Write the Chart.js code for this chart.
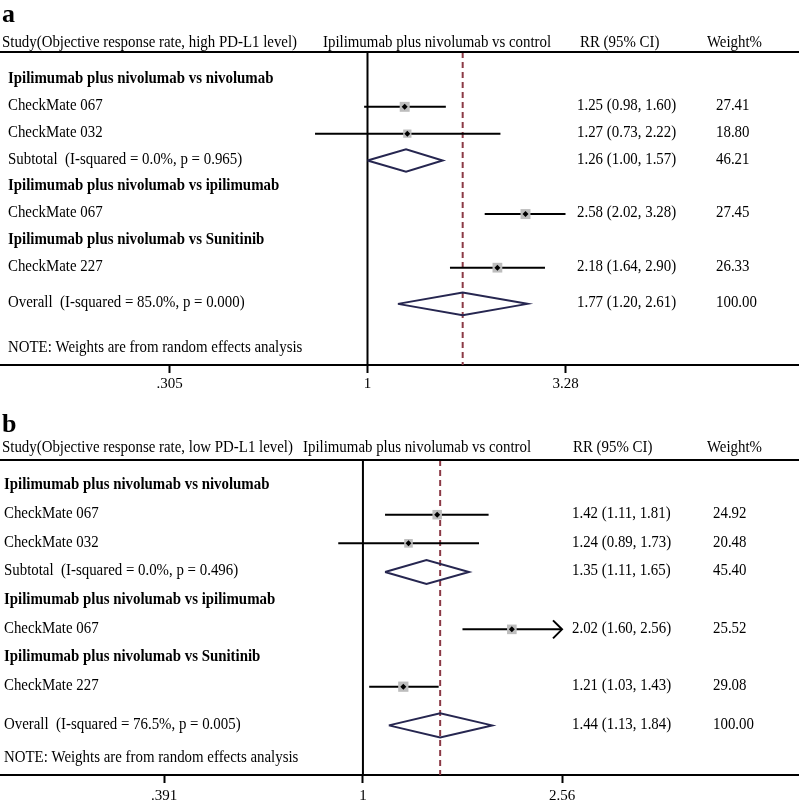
<!DOCTYPE html>
<html>
<head>
<meta charset="utf-8">
<script src="https://cdn.jsdelivr.net/npm/chart.js@4.4.1/dist/chart.umd.min.js"></script>
<style>
  html, body { margin: 0; padding: 0; background: #fff; overflow: hidden; }
  #wrap { position: relative; width: 799px; height: 806px; overflow: hidden; }
  .panel { position: absolute; left: 0; }
</style>
</head>
<body>
<div id="wrap">
  <canvas id="chartA" class="panel" style="top:0" width="799" height="400"></canvas>
  <canvas id="chartB" class="panel" style="top:400px" width="799" height="412"></canvas>
</div>
<script>
// Panel a: objective response rate, high PD-L1 level
const rowLabelsA = [
  'Ipilimumab plus nivolumab vs nivolumab',
  'CheckMate 067',
  'CheckMate 032',
  'Subtotal  (I-squared = 0.0%, p = 0.965)',
  'Ipilimumab plus nivolumab vs ipilimumab',
  'CheckMate 067',
  'Ipilimumab plus nivolumab vs Sunitinib',
  'CheckMate 227',
  'Overall  (I-squared = 85.0%, p = 0.000)',
]
const rowKindsA = ['group', 'study', 'study', 'pooled', 'group', 'study', 'group', 'study', 'overall']
const rrA = [null, 1.25, 1.27, 1.26, null, 2.58, null, 2.18, 1.77]
const lowerA = [null, 0.98, 0.73, 1.00, null, 2.02, null, 1.64, 1.20]
const upperA = [null, 1.60, 2.22, 1.57, null, 3.28, null, 2.90, 2.61]
const weightA = [null, 27.41, 18.80, 46.21, null, 27.45, null, 26.33, 100.00]
const arrowRowsA = []
const tickValuesA = [0.305, 1, 3.28]
const tickLabelsA = ['.305', '1', '3.28']

// Panel b: objective response rate, low PD-L1 level
const rowLabelsB = [
  'Ipilimumab plus nivolumab vs nivolumab',
  'CheckMate 067',
  'CheckMate 032',
  'Subtotal  (I-squared = 0.0%, p = 0.496)',
  'Ipilimumab plus nivolumab vs ipilimumab',
  'CheckMate 067',
  'Ipilimumab plus nivolumab vs Sunitinib',
  'CheckMate 227',
  'Overall  (I-squared = 76.5%, p = 0.005)',
]
const rowKindsB = ['group', 'study', 'study', 'pooled', 'group', 'study', 'group', 'study', 'overall']
const rrB = [null, 1.42, 1.24, 1.35, null, 2.02, null, 1.21, 1.44]
const lowerB = [null, 1.11, 0.89, 1.11, null, 1.60, null, 1.03, 1.13]
const upperB = [null, 1.81, 1.73, 1.65, null, 2.56, null, 1.43, 1.84]
const weightB = [null, 24.92, 20.48, 45.40, null, 25.52, null, 29.08, 100.00]
const arrowRowsB = [5]
const tickValuesB = [0.391, 1, 2.56]
const tickLabelsB = ['.391', '1', '2.56']

const NOTE_TEXT = 'NOTE: Weights are from random effects analysis'

// styling
const FAMILY = '"Liberation Serif", "Times New Roman", serif'
const SQUEEZE = 0.93
const OVERALL_GAP = 0.35
const DIAMOND_HALF = 0.42
const SQUARE_K = 1.9
const NAVY = '#262650'
const DASH_RED = '#8c3a46'

const rowPositions = (kinds) => kinds.map((k, i) => (k === 'overall' ? i + OVERALL_GAP : i))

const drawSqueezed = (ctx, str, x, y, font) => {
  ctx.save()
  ctx.font = font
  ctx.translate(x, y)
  ctx.scale(SQUEEZE, 1)
  ctx.fillText(str, 0, 0)
  ctx.restore()
}

const buildDatasets = (p) => {
  const rows = rowPositions(p.kinds)
  const studies = p.kinds.map((k, i) => (k === 'study' ? i : -1)).filter((i) => i >= 0)
  const overallIdx = p.kinds.indexOf('overall')
  const sets = []

  const estPoints = studies.map((i) => ({ x: p.rr[i], y: rows[i] }))

  // point estimate
  sets.push({
    data: estPoints,
    pointStyle: 'rectRot',
    pointRadius: 3,
    backgroundColor: '#000',
    borderWidth: 0,
  })

  // weight boxes, area ~ weight
  sets.push({
    data: estPoints,
    pointStyle: 'rect',
    pointRadius: studies.map((i) => (SQUARE_K * Math.sqrt(p.weight[i])) / Math.SQRT2),
    backgroundColor: '#bdbdbd',
    borderWidth: 0,
  })

  studies.forEach((i) => {
    sets.push({
      data: [{ x: p.lower[i], y: rows[i] }, { x: p.upper[i], y: rows[i] }],
      showLine: true,
      borderColor: '#000',
      borderWidth: 2,
      pointRadius: 0,
    })
  })

  p.kinds.forEach((k, i) => {
    if (k !== 'pooled' && k !== 'overall') return
    const r = rows[i]
    sets.push({
      data: [
        { x: p.lower[i], y: r },
        { x: p.rr[i], y: r - DIAMOND_HALF },
        { x: p.upper[i], y: r },
        { x: p.rr[i], y: r + DIAMOND_HALF },
        { x: p.lower[i], y: r },
      ],
      showLine: true,
      borderColor: NAVY,
      borderWidth: 2,
      borderJoinStyle: 'miter',
      pointRadius: 0,
    })
  })

  sets.push({
    data: [{ x: p.rr[overallIdx], y: p.yMin }, { x: p.rr[overallIdx], y: p.yMax }],
    showLine: true,
    borderColor: DASH_RED,
    borderDash: [6, 4],
    borderWidth: 2,
    pointRadius: 0,
  })

  sets.push({
    data: [{ x: 1, y: p.yMin }, { x: 1, y: p.yMax }],
    showLine: true,
    borderColor: '#000',
    borderWidth: 2,
    pointRadius: 0,
  })

  return sets
}

// Table text, header rule and truncation arrows
const forestText = {
  id: 'forestText',
  afterDraw(chart, args, p) {
    const { ctx, chartArea } = chart
    const yScale = chart.scales.y
    const xScale = chart.scales.x
    const rows = rowPositions(p.kinds)
    const regular = '16px ' + FAMILY
    const bold = 'bold 16px ' + FAMILY

    ctx.save()
    ctx.fillStyle = '#000'
    ctx.textBaseline = 'middle'
    ctx.textAlign = 'left'

    ctx.font = 'bold 26px ' + FAMILY
    ctx.fillText(p.letter, 2, p.letterY)

    drawSqueezed(ctx, p.title, 2, p.headerY, regular)
    drawSqueezed(ctx, 'Ipilimumab plus nivolumab vs control', p.midHeaderX, p.headerY, regular)
    drawSqueezed(ctx, 'RR (95% CI)', p.rrHeaderX, p.headerY, regular)
    drawSqueezed(ctx, 'Weight%', p.wHeaderX, p.headerY, regular)

    ctx.strokeStyle = '#000'
    ctx.lineWidth = 2
    ctx.beginPath()
    ctx.moveTo(chartArea.left, chartArea.top)
    ctx.lineTo(chartArea.right, chartArea.top)
    ctx.stroke()

    p.labels.forEach((label, i) => {
      const y = yScale.getPixelForValue(rows[i]) - 1
      const isGroup = p.kinds[i] === 'group'
      drawSqueezed(ctx, label, p.labelX, y, isGroup ? bold : regular)
      if (isGroup) return
      const rrText = `${p.rr[i].toFixed(2)} (${p.lower[i].toFixed(2)}, ${p.upper[i].toFixed(2)})`
      drawSqueezed(ctx, rrText, p.rrX, y, regular)
      drawSqueezed(ctx, p.weight[i].toFixed(2), p.wX, y, regular)
    })

    drawSqueezed(ctx, NOTE_TEXT, p.labelX, chartArea.bottom - 17, regular)

    p.arrows.forEach((i) => {
      const tipX = xScale.getPixelForValue(p.upper[i])
      const tipY = yScale.getPixelForValue(rows[i])
      ctx.beginPath()
      ctx.moveTo(tipX - 9, tipY - 9)
      ctx.lineTo(tipX, tipY)
      ctx.lineTo(tipX - 9, tipY + 9)
      ctx.stroke()
    })

    ctx.restore()
  },
}

const makeForest = (canvasId, p) => {
  new Chart(document.getElementById(canvasId), {
    type: 'scatter',
    data: { datasets: buildDatasets(p) },
    options: {
      responsive: false,
      animation: false,
      events: [],
      layout: {
        autoPadding: false,
        padding: { top: p.padTop, bottom: p.padBottom, left: 0, right: 0 },
      },
      plugins: {
        legend: { display: false },
        tooltip: { enabled: false },
        forestText: p,
      },
      scales: {
        x: {
          type: 'logarithmic',
          min: p.xMin,
          max: p.xMax,
          afterBuildTicks: (axis) => {
            axis.ticks = p.tickValues.map((v) => ({ value: v }))
          },
          ticks: {
            autoSkip: false,
            maxRotation: 0,
            padding: p.tickPad,
            color: '#000',
            font: { family: FAMILY, size: 15 },
            callback: (value, index) => p.tickLabels[index],
          },
          grid: {
            display: true,
            drawOnChartArea: false,
            drawTicks: true,
            tickLength: 8,
            tickWidth: 2,
            tickColor: '#000',
          },
          border: { display: true, color: '#000', width: 2 },
        },
        y: {
          type: 'linear',
          display: false,
          reverse: true,
          min: p.yMin,
          max: p.yMax,
        },
      },
    },
    plugins: [forestText],
  })
}

makeForest('chartA', {
  letter: 'a',
  title: 'Study(Objective response rate, high PD-L1 level)',
  labels: rowLabelsA,
  kinds: rowKindsA,
  rr: rrA,
  lower: lowerA,
  upper: upperA,
  weight: weightA,
  arrows: arrowRowsA,
  tickValues: tickValuesA,
  tickLabels: tickLabelsA,
  xMin: 0.1103,
  xMax: 13.31,
  yMin: -1.045,
  yMax: 10.63,
  padTop: 52,
  padBottom: 5,
  tickPad: 2,
  letterY: 15,
  headerY: 43,
  labelX: 8,
  midHeaderX: 323,
  rrHeaderX: 580,
  rrX: 577,
  wHeaderX: 707,
  wX: 716,
})

makeForest('chartB', {
  letter: 'b',
  title: 'Study(Objective response rate, low PD-L1 level)',
  labels: rowLabelsB,
  kinds: rowKindsB,
  rr: rrB,
  lower: lowerB,
  upper: upperB,
  weight: weightB,
  arrows: arrowRowsB,
  tickValues: tickValuesB,
  tickLabels: tickLabelsB,
  xMin: 0.1802,
  xMax: 7.838,
  yMin: -0.907,
  yMax: 10.08,
  padTop: 60,
  padBottom: 3,
  tickPad: 4,
  letterY: 25,
  headerY: 48,
  labelX: 4,
  midHeaderX: 303,
  rrHeaderX: 573,
  rrX: 572,
  wHeaderX: 707,
  wX: 713,
})
</script>
</body>
</html>
